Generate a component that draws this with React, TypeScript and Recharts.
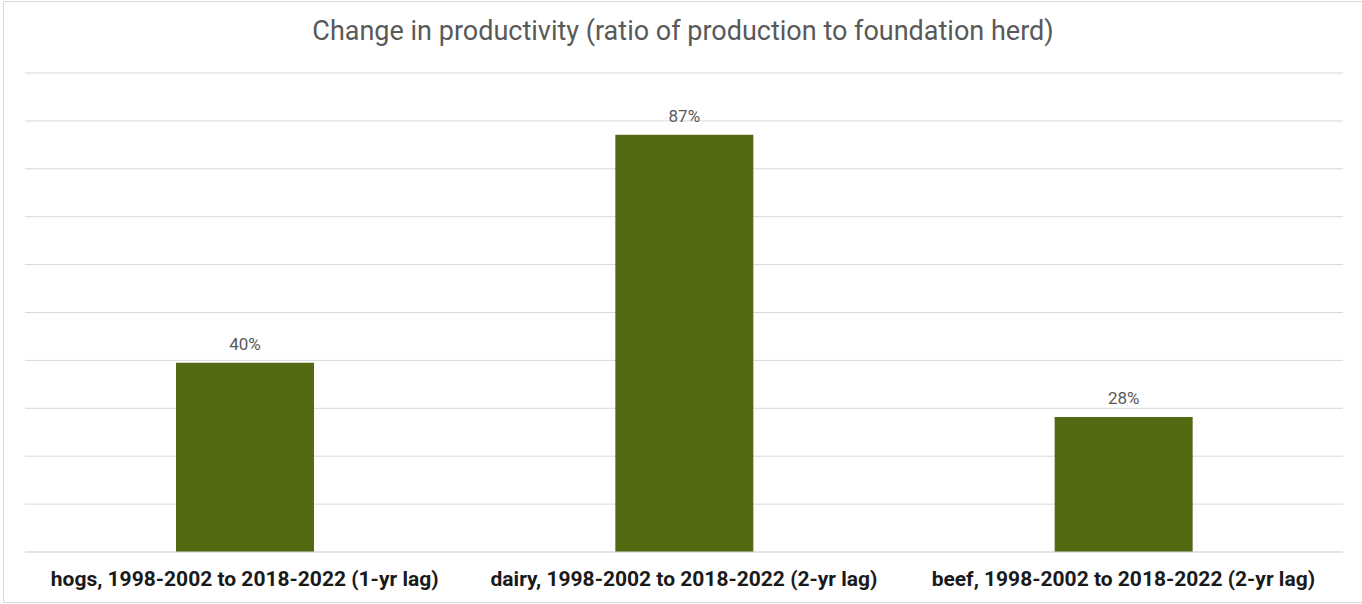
import { Bar, BarChart, CartesianGrid, LabelList, XAxis, YAxis } from "recharts";

const categories = [
  "hogs, 1998-2002 to 2018-2022 (1-yr lag)",
  "dairy, 1998-2002 to 2018-2022 (2-yr lag)",
  "beef, 1998-2002 to 2018-2022 (2-yr lag)",
];
const productivityChange = [0.395, 0.871, 0.282];
const yTicks = [0, 0.1, 0.2, 0.3, 0.4, 0.5, 0.6, 0.7, 0.8, 0.9, 1];

const data = categories.map((name, i) => ({ name, value: productivityChange[i] }));

const pct = (v: unknown) => `${Math.round(Number(v) * 100)}%`;

export default function App() {
  return (
    <div
      style={{
        position: "relative",
        width: 1362,
        height: 604,
        background: "#fff",
        fontFamily: "Roboto, sans-serif",
      }}
    >
      <style>{`body{margin:0}`}</style>
      <div
        style={{
          position: "absolute",
          left: 3,
          top: 1,
          width: 1362 - 3,
          height: 604 - 2,
          border: "1px solid #d9d9d9",
          borderRight: "none",
          boxSizing: "border-box",
        }}
      />
      <div
        style={{
          position: "absolute",
          top: 15,
          left: 2,
          width: 1362,
          textAlign: "center",
          fontSize: 27,
          color: "#595959",
          whiteSpace: "nowrap",
        }}
      >
        Change in productivity (ratio of production to foundation herd)
      </div>
      <BarChart
        width={1362}
        height={604}
        data={data}
        margin={{ top: 73, right: 19, bottom: 0, left: 25 }}
        style={{ position: "absolute", top: 0, left: 0 }}
      >
        <CartesianGrid vertical={false} stroke="#d9d9d9" />
        <YAxis hide domain={[0, 1]} ticks={yTicks} width={0} />
        <XAxis
          dataKey="name"
          height={52}
          axisLine={{ stroke: "#d9d9d9" }}
          tickLine={false}
          tickMargin={13}
          tick={{ fill: "#1a1a1a", fontSize: 21, fontWeight: 700, fontFamily: "Roboto" }}
          interval={0}
        />
        <Bar dataKey="value" fill="#546a12" barSize={138} isAnimationActive={false}>
          <LabelList
            dataKey="value"
            position="top"
            offset={13}
            formatter={pct}
            fill="#595959"
            fontSize={17}
            fontFamily="Roboto"
          />
        </Bar>
      </BarChart>
    </div>
  );
}
